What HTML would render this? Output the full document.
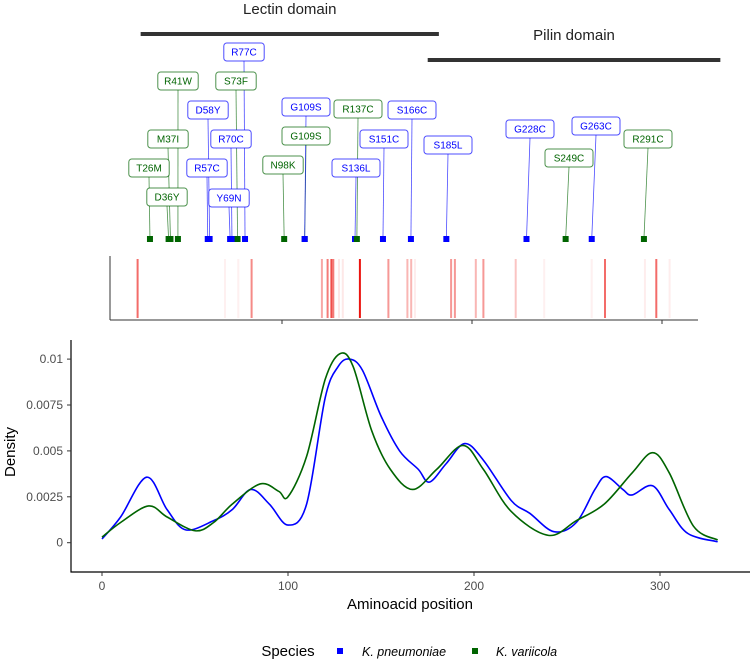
<!DOCTYPE html>
<html><head><meta charset="utf-8"><style>
html,body{margin:0;padding:0;background:#fff;}
svg{display:block;font-family:"Liberation Sans",sans-serif;}
</style></head><body>
<svg id="chart" width="750" height="664" viewBox="0 0 750 664">
<g id="topPanel"></g>
<g id="stripPanel"></g>
<g id="densPanel"></g>
<g id="legendPanel"></g>
</svg>
<script>
// ---- data ----
const domainNames = ["Lectin domain", "Pilin domain"];
const domainStart = [21, 175];
const domainEnd = [181, 332];
const mutLabels = ["T26M","D36Y","M37I","R41W","R57C","D58Y","Y69N","R70C","S73F","R77C","N98K","G109S","G109S","S136L","R137C","S151C","S166C","S185L","G228C","S249C","G263C","R291C"];
const mutPos = [26,36,37,41,57,58,69,70,73,77,98,109,109,136,137,151,166,185,228,249,263,291];
const mutSpecies = ["v","v","v","v","p","p","p","p","v","p","v","v","p","p","v","p","p","p","p","v","p","v"];
const labelX = [149,167,168,178,207,208,229,231,236,244,283,306,306,356,358,384,412,448,530,569,596,648];
const labelY = [168,197,139,81,168,110,198,139,81,52,165,136,107,168,109,139,110,145,129,158,126,139];
const stripPos = [24,70,77,84,121,124,126,127,130,132,141,156,166,168,170,189,191,202,206,223,238,263,270,291,297,304];
const stripVal = [0.5,0.05,0.05,0.4,0.3,0.45,0.6,0.45,0.08,0.08,1.0,0.35,0.25,0.25,0.06,0.35,0.35,0.25,0.35,0.2,0.05,0.05,0.5,0.06,0.5,0.06];
const densX = [0,10,24,35,45,60,70,80,90,100,110,120,127,133,140,150,160,170,176,185,195,205,220,230,243,255,265,271,280,285,296,305,315,331];
const densPneu = [0.0002,0.0014,0.00357,0.0018,0.0007,0.0012,0.0018,0.0029,0.0021,0.00096,0.0021,0.0079,0.0096,0.0100,0.0094,0.0069,0.0050,0.0040,0.0033,0.0043,0.0054,0.0045,0.0023,0.0016,0.0006,0.0011,0.0029,0.0036,0.0029,0.0026,0.0031,0.0018,0.0005,0.00005];
const densVarX = [0,10,25,35,50,60,70,85,95,100,110,120,128,135,145,155,167,180,194,205,220,240,255,270,285,296,305,318,331];
const densVar = [0.0003,0.0011,0.0020,0.0014,0.00065,0.0011,0.0021,0.0032,0.0028,0.0025,0.0047,0.0089,0.0103,0.0096,0.0061,0.0040,0.0029,0.0040,0.0053,0.0040,0.0017,0.0004,0.0012,0.0021,0.0038,0.0049,0.0038,0.0009,0.00015];
const xTicks = [0,100,200,300];
const yTicks = [0,0.0025,0.005,0.0075,0.01];
const yTickLabels = ["0","0.0025","0.005","0.0075","0.01"];
const speciesNames = ["K. pneumoniae","K. variicola"];

const NS="http://www.w3.org/2000/svg";
function mk(tag, attrs, parent){const e=document.createElementNS(NS,tag);for(const k in attrs)e.setAttribute(k,attrs[k]);parent.appendChild(e);return e;}
const BLUE="#0000ff", GREEN="#006400";
const xTop = p => 101.5 + 1.864*p;
const xStrip = p => 92 + 1.9*p;
const xD = p => 102 + 1.86*p;
const yD = v => 542.7 - v*18360;

// ---- top panel ----
const topG=document.getElementById('topPanel');
for(let i=0;i<domainNames.length;i++){
  const by = i===0?34:60;
  const l=mk('line',{x1:xTop(domainStart[i]),x2:xTop(domainEnd[i]),y1:by,y2:by,stroke:'#333',"stroke-width":4},topG);
  
  
  const t=mk('text',{x:(xTop(domainStart[i])+xTop(domainEnd[i]))/2,y:by-20,"text-anchor":"middle","font-size":15,fill:'#222'},topG);
  t.textContent=domainNames[i];
  
  
}
for(let i=0;i<mutLabels.length;i++){
  const c = mutSpecies[i]==="p"?BLUE:GREEN;
  const px=xTop(mutPos[i]);
  const ln=mk('line',{x1:labelX[i],y1:labelY[i]+9,x2:px,y2:239,stroke:c,"stroke-width":0.8,"stroke-opacity":0.7},topG);
  
  
}
for(let i=0;i<mutLabels.length;i++){
  const c = mutSpecies[i]==="p"?BLUE:GREEN;
  const w = mutLabels[i].length*7.6+10;
  const r=mk('rect',{x:labelX[i]-w/2,y:labelY[i]-9,width:w,height:18,rx:3,fill:'#fff',stroke:c,"stroke-opacity":0.7,"stroke-width":1},topG);
  
  
  const t=mk('text',{x:labelX[i],y:labelY[i]+3.6,"text-anchor":"middle","font-size":10,fill:c},topG);
  t.textContent=mutLabels[i];
  
  
  const s=mk('rect',{x:xTop(mutPos[i])-3,y:236,width:6,height:6,fill:c},topG);
  
  
}

// ---- strip ----
const stripG=document.getElementById('stripPanel');
for(let i=0;i<stripPos.length;i++){
  const v=Math.min(1,stripVal[i]*1.25);
  const r=mk('rect',{x:xStrip(stripPos[i])-1,y:259,width:2,height:59,fill:`rgb(${Math.round(255-20*v)},${Math.round(255-235*v)},${Math.round(255-240*v)})`},stripG);
  
  
}
let ax=mk('line',{x1:110,y1:256,x2:110,y2:320,stroke:'#333',"stroke-width":1},stripG);

ax=mk('line',{x1:110,y1:320,x2:698,y2:320,stroke:'#333',"stroke-width":1},stripG);

for(const t of [100,200,300]){
  const tk=mk('line',{x1:xStrip(t),x2:xStrip(t),y1:320,y2:324,stroke:'#333'},stripG);
  
  
}

// ---- density ----
const densG=document.getElementById('densPanel');
function smooth(xs,ys){
  const P=xs.map((x,i)=>[xD(x),yD(ys[i])]);
  let d=`M${P[0][0]},${P[0][1]}`;
  for(let i=0;i<P.length-1;i++){
    const p0=P[i-1]||P[i],p1=P[i],p2=P[i+1],p3=P[i+2]||P[i+1];
    const c1=[p1[0]+(p2[0]-p0[0])/6,p1[1]+(p2[1]-p0[1])/6];
    const c2=[p2[0]-(p3[0]-p1[0])/6,p2[1]-(p3[1]-p1[1])/6];
    d+=` C${c1[0]},${c1[1]} ${c2[0]},${c2[1]} ${p2[0]},${p2[1]}`;
  }
  return d;
}
let pth=mk('path',{d:smooth(densX,densPneu),fill:'none',stroke:BLUE,"stroke-width":1.6},densG);

pth=mk('path',{d:smooth(densVarX,densVar),fill:'none',stroke:GREEN,"stroke-width":1.6},densG);

ax=mk('line',{x1:71,y1:340,x2:71,y2:572.5,stroke:'#000',"stroke-width":1.2},densG);

ax=mk('line',{x1:70.5,y1:572,x2:750,y2:572,stroke:'#000',"stroke-width":1.2},densG);

for(let i=0;i<yTicks.length;i++){
  const y=yD(yTicks[i]);
  const tk=mk('line',{x1:67,x2:71,y1:y,y2:y,stroke:'#333'},densG);
  
  const t=mk('text',{x:63,y:y+4,"text-anchor":"end","font-size":12,fill:'#4d4d4d'},densG);
  t.textContent=yTickLabels[i];
  
}
for(const v of xTicks){
  const x=xD(v);
  const tk=mk('line',{x1:x,x2:x,y1:572,y2:576,stroke:'#333'},densG);
  
  const t=mk('text',{x:x,y:590,"text-anchor":"middle","font-size":12,fill:'#4d4d4d'},densG);
  t.textContent=v;
  
}
let tt=mk('text',{x:410,y:609,"text-anchor":"middle","font-size":15,fill:'#000'},densG);
tt.textContent="Aminoacid position";

tt=mk('text',{x:0,y:0,"text-anchor":"middle","font-size":15,fill:'#000',transform:'translate(15,452) rotate(-90)'},densG);
tt.textContent="Density";


// ---- legend ----
const lg=document.getElementById('legendPanel');
tt=mk('text',{x:288,y:656,"text-anchor":"middle","font-size":15,fill:'#000'},lg);
tt.textContent="Species";

const lx=[340,475], tx=[362,496], cols=[BLUE,GREEN];
for(let i=0;i<2;i++){
  const s=mk('rect',{x:lx[i]-3,y:648,width:6,height:6,fill:cols[i]},lg);
  
  const t=mk('text',{x:tx[i],y:656,"font-size":12.5,"font-style":"italic",fill:'#000'},lg);
  t.textContent=speciesNames[i];
  
}
</script>
</body></html>
